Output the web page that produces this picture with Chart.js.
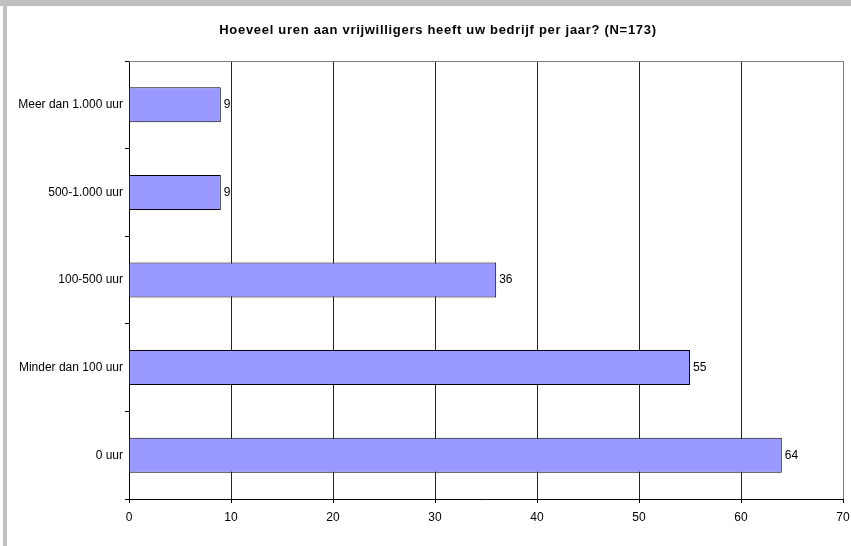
<!DOCTYPE html>
<html>
<head>
<meta charset="utf-8">
<title>Hoeveel uren aan vrijwilligers</title>
<script src="https://cdn.jsdelivr.net/npm/chart.js@4.4.1/dist/chart.umd.min.js"></script>
<style>
  body { margin: 0; background: #fff; width: 851px; height: 546px; overflow: hidden; position: relative; }
  #topband { position: absolute; left: 0; top: 0; width: 851px; height: 6px; background: #c0c0c0; }
  #leftband { position: absolute; left: 3px; top: 0; width: 4px; height: 546px; background: #c0c0c0; }
  #chart { position: absolute; left: 7px; top: 6px; }
</style>
</head>
<body>
<div id="topband"></div>
<div id="leftband"></div>
<canvas id="chart" width="844" height="540"></canvas>
<script>
// Data
var categories = ["Meer dan 1.000 uur", "500-1.000 uur", "100-500 uur", "Minder dan 100 uur", "0 uur"];
var values = [9, 9, 36, 55, 64];
var xTicks = [0, 10, 20, 30, 40, 50, 60, 70];

var chartTitle = "Hoeveel uren aan vrijwilligers heeft uw bedrijf per jaar? (N=173)";
var fontFamily = "'Liberation Sans', Arial, sans-serif";

// title (drawn by hand for the wide letter spacing), value labels, gray top border
var extras = {
  id: "extras",
  afterDraw: function(chart) {
    var ctx = chart.ctx;
    var area = chart.chartArea;
    ctx.save();
    ctx.strokeStyle = "#808080";
    ctx.lineWidth = 1;
    ctx.beginPath();
    ctx.moveTo(area.left, area.top + 0.5);
    ctx.lineTo(area.right, area.top + 0.5);
    ctx.stroke();

    ctx.fillStyle = "#000";
    ctx.font = "12px " + fontFamily;
    ctx.textBaseline = "middle";
    ctx.textAlign = "left";
    var meta = chart.getDatasetMeta(0);
    meta.data.forEach(function(bar, i) {
      ctx.fillText(values[i], bar.x + 3, bar.y);
    });

    ctx.font = "bold 13px " + fontFamily;
    ctx.letterSpacing = "0.7px";
    ctx.textAlign = "center";
    ctx.fillText(chartTitle, 431, 24);
    ctx.restore();
  }
};

var ctx = document.getElementById("chart");

var myChart = new Chart(ctx, {
  type: "bar",
  data: {
    labels: categories,
    datasets: [{
      data: values,
      backgroundColor: "#9999ff",
      borderColor: "#000",
      borderWidth: 1,
      categoryPercentage: 1,
      barPercentage: 0.4
    }]
  },
  options: {
    indexAxis: "y",
    responsive: false,
    animation: false,
    devicePixelRatio: 1,
    layout: { padding: { left: 0, right: 0, top: 55, bottom: 0 } },
    plugins: {
      legend: { display: false },
      tooltip: { enabled: false },
      title: { display: false }
    },
    scales: {
      x: {
        min: 0,
        max: 70,
        afterBuildTicks: function(scale) {
          scale.ticks = xTicks.map(function(v) { return { value: v }; });
        },
        afterFit: function(scale) {
          scale.height = 47;
          scale.paddingRight = 8;
        },
        grid: {
          color: function(c) { return c.tick && c.tick.value === 70 ? "#808080" : "#222"; },
          tickColor: "#000",
          tickLength: 4,
          lineWidth: 1
        },
        border: { color: "#000" },
        ticks: {
          color: "#000",
          padding: 7,
          font: { family: fontFamily, size: 12 }
        }
      },
      y: {
        afterFit: function(scale) { scale.width = 122; },
        grid: {
          offset: true,
          drawOnChartArea: false,
          tickLength: 4,
          tickColor: "#000"
        },
        border: { color: "#000" },
        ticks: {
          color: "#000",
          padding: 2,
          font: { family: fontFamily, size: 12 }
        }
      }
    }
  },
  plugins: [extras]
});
</script>
</body>
</html>
